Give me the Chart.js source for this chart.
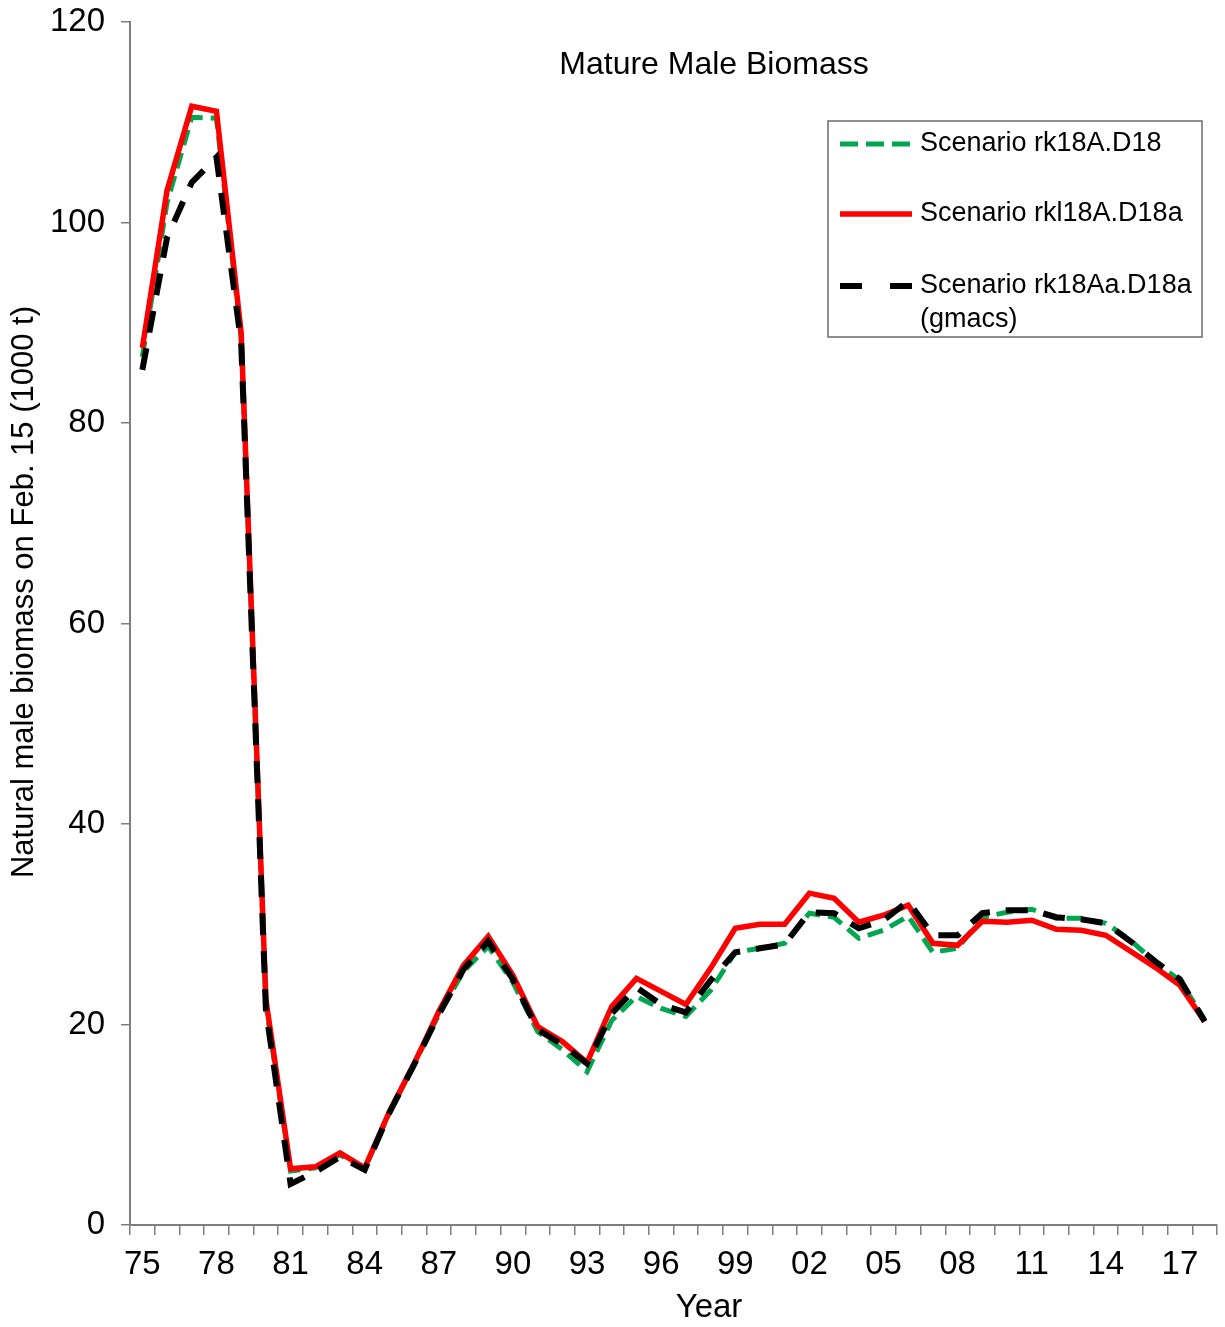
<!DOCTYPE html>
<html>
<head>
<meta charset="utf-8">
<script src="https://cdn.jsdelivr.net/npm/chart.js@4/dist/chart.umd.min.js"></script>
<style>
    html, body { margin: 0; padding: 0; background: #fff; }
    #wrap { width: 1225px; height: 1327px; }
</style>
</head>
<body>
<div id="wrap"><canvas id="biomassChart"></canvas></div>
<script>
// Data (1000 t)
const years = ['75','76','77','78','79','80','81','82','83','84','85','86','87','88','89',
    '90','91','92','93','94','95','96','97','98','99','00','01','02','03','04',
    '05','06','07','08','09','10','11','12','13','14','15','16','17','18'];

const rk18A_D18 = [86.6, 102.0, 110.5, 110.4, 88.5, 22.0, 5.4, 5.7, 7.0, 5.6, 11.2, 16.0, 21.0, 25.3, 27.8,
    24.2, 19.3, 17.5, 15.3, 20.4, 22.8, 21.6, 20.8, 23.4, 27.2, 27.6, 28.1, 31.1, 30.7, 28.6,
    29.4, 30.8, 27.2, 27.6, 30.7, 31.2, 31.5, 30.6, 30.6, 30.1, 28.4, 26.2, 24.4, 20.5];

const rkl18A_D18a = [87.5, 103.2, 111.6, 111.1, 89.0, 22.5, 5.6, 5.8, 7.2, 5.7, 11.3, 16.1, 21.3, 25.9, 28.8,
    24.9, 19.8, 18.3, 16.2, 21.8, 24.6, 23.3, 22.0, 25.6, 29.6, 30.0, 30.0, 33.1, 32.6, 30.2,
    30.9, 31.9, 28.1, 27.9, 30.3, 30.2, 30.4, 29.5, 29.4, 28.9, 27.3, 25.7, 23.9, 20.3];

const rk18Aa_D18a = [85.3, 98.5, 104.0, 106.5, 88.0, 21.5, 4.1, 5.3, 6.8, 5.5, 11.2, 16.0, 21.0, 25.5, 28.3,
    24.5, 19.5, 18.0, 16.1, 21.1, 23.7, 22.0, 21.2, 24.4, 27.2, 27.6, 28.0, 31.2, 31.1, 29.6,
    30.4, 32.3, 28.9, 28.9, 31.1, 31.4, 31.4, 30.7, 30.5, 30.1, 28.3, 26.3, 24.5, 20.3];

const yTicks = [0, 20, 40, 60, 80, 100, 120];

const chartTitle = 'Mature Male Biomass';
const xTitle = 'Year';
const yTitle = 'Natural male biomass on Feb. 15 (1000 t)';
const axisColor = '#7f7f7f';
const fontFamily = 'Liberation Sans, Arial, sans-serif';

// Judul, judul sumbu dan legenda digambar manual
const overlayPlugin = {
    id: 'overlay',
    afterDraw(chart) {
        const ctx = chart.ctx;
        ctx.save();
        ctx.fillStyle = '#000';
        ctx.textAlign = 'center';
        ctx.textBaseline = 'middle';
        ctx.font = '32px ' + fontFamily;
        ctx.fillText(chartTitle, 714, 65);

        ctx.font = '33px ' + fontFamily;
        ctx.fillText(xTitle, 709, 1308);

        ctx.save();
        ctx.translate(24, 592);
        ctx.rotate(-Math.PI / 2);
        ctx.font = '31px ' + fontFamily;
        ctx.fillText(yTitle, 0, 0);
        ctx.restore();

        // kotak legenda
        ctx.strokeStyle = '#6b6b6b';
        ctx.lineWidth = 1.5;
        ctx.strokeRect(828, 121, 374, 216);

        const rows = [
            { ds: chart.data.datasets[0], y: 144 },
            { ds: chart.data.datasets[1], y: 214 },
            { ds: chart.data.datasets[2], y: 286 }
        ];
        ctx.font = '27px ' + fontFamily;
        ctx.textAlign = 'left';
        rows.forEach(r => {
            ctx.beginPath();
            ctx.strokeStyle = r.ds.borderColor;
            ctx.lineWidth = r.ds.borderWidth;
            ctx.setLineDash(r.ds.legendDash || []);
            ctx.moveTo(840, r.y);
            ctx.lineTo(912, r.y);
            ctx.stroke();
            ctx.setLineDash([]);
            ctx.fillStyle = '#000';
            const lines = Array.isArray(r.ds.legendText) ? r.ds.legendText : [r.ds.legendText];
            lines.forEach((t, i) => ctx.fillText(t, 920, r.y + i * 34));
        });
        ctx.restore();
    }
};

const ctx = document.getElementById('biomassChart').getContext('2d');
const biomassChart = new Chart(ctx, {
    type: 'line',
    data: {
        labels: years,
        datasets: [{
            label: 'Scenario rk18A.D18',
            legendText: 'Scenario rk18A.D18',
            data: rk18A_D18,
            borderColor: '#00A650',
            borderWidth: 5,
            borderDash: [16, 8],
            legendDash: [18, 8],
            order: 2
        }, {
            label: 'Scenario rkl18A.D18a',
            legendText: 'Scenario rkl18A.D18a',
            data: rkl18A_D18a,
            borderColor: '#FF0000',
            borderWidth: 5.5,
            order: 1
        }, {
            label: 'Scenario rk18Aa.D18a (gmacs)',
            legendText: ['Scenario rk18Aa.D18a', '(gmacs)'],
            data: rk18Aa_D18a,
            borderColor: '#000000',
            borderWidth: 6,
            borderDash: [22, 16],
            legendDash: [22, 28],
            order: 0
        }]
    },
    options: {
        responsive: true,
        maintainAspectRatio: false,
        animation: false,
        layout: { padding: { top: 22, right: 8, left: 0, bottom: 0 } },
        elements: {
            point: { radius: 0 },
            line: { tension: 0, fill: false, borderCapStyle: 'butt', borderJoinStyle: 'miter' }
        },
        plugins: {
            legend: { display: false },
            tooltip: { enabled: false },
            title: { display: false }
        },
        scales: {
            x: {
                type: 'category',
                offset: true,
                grid: {
                    offset: true,
                    drawOnChartArea: false,
                    drawTicks: true,
                    tickLength: 10,
                    color: axisColor,
                    lineWidth: 1.5
                },
                border: { display: true, color: axisColor, width: 2 },
                ticks: {
                    autoSkip: false,
                    maxRotation: 0,
                    padding: 10,
                    color: '#000',
                    font: { family: fontFamily, size: 33 },
                    callback: function (val, index) {
                        return index % 3 === 0 ? this.getLabelForValue(val) : '';
                    }
                },
                afterFit: scale => {
                    scale.height = 102;
                    scale.paddingLeft = 0;
                    scale.paddingRight = 0;
                }
            },
            y: {
                min: 0,
                max: 120,
                afterBuildTicks: scale => { scale.ticks = yTicks.map(v => ({ value: v })); },
                grid: {
                    drawOnChartArea: false,
                    drawTicks: true,
                    tickLength: 9,
                    color: axisColor,
                    lineWidth: 1.5
                },
                border: { display: true, color: axisColor, width: 2 },
                ticks: {
                    padding: 16,
                    color: '#000',
                    font: { family: fontFamily, size: 33 }
                },
                afterFit: scale => {
                    scale.width = 130;
                    scale.paddingTop = 0;
                    scale.paddingBottom = 0;
                }
            }
        }
    },
    plugins: [overlayPlugin]
});
</script>
</body>
</html>
